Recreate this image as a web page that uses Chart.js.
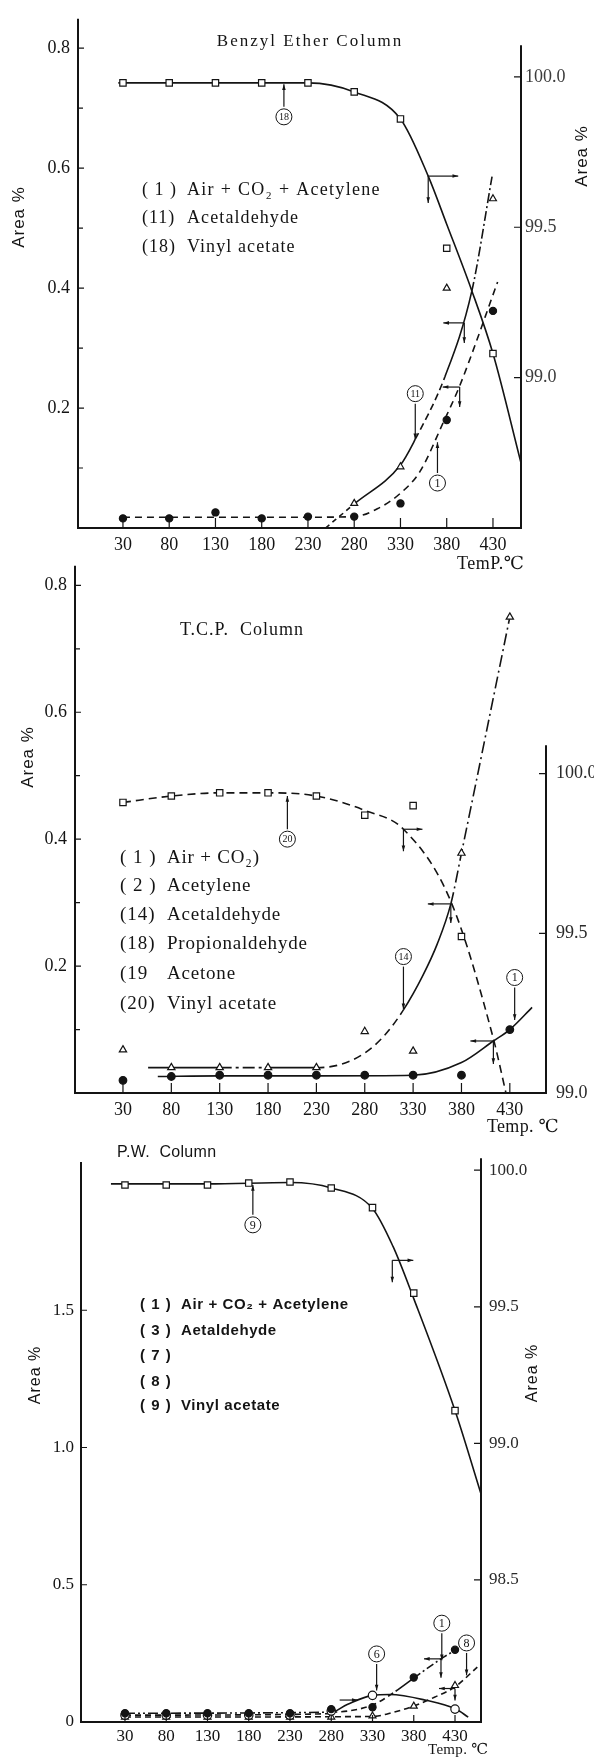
<!DOCTYPE html>
<html>
<head>
<meta charset="utf-8">
<script src="https://cdn.jsdelivr.net/npm/chart.js@4.4.1/dist/chart.umd.min.js"></script>
<style>
html, body { margin: 0; padding: 0; background: #fff; }
#wrap { position: relative; width: 594px; height: 1760px; overflow: hidden; }
canvas { position: absolute; left: 0; }
</style>
</head>
<body>
<div id="wrap">
  <canvas id="c1" width="594" height="580" style="top:0px"></canvas>
  <canvas id="c2" width="594" height="600" style="top:545px"></canvas>
  <canvas id="c3" width="594" height="620" style="top:1140px"></canvas>
</div>
<script>
const temps = [30, 80, 130, 180, 230, 280, 330, 380, 430];

// Benzyl Ether column (measured points)
const beVinylAcetate = [99.98, 99.98, 99.98, 99.98, 99.98, 99.95, 99.86, 99.43, 99.08];
const beAcetaldehyde = [null, null, null, null, null, 0.041, 0.102, 0.40, 0.549];
const beAirCO2 = [0.016, 0.016, 0.026, 0.016, 0.019, 0.019, 0.041, 0.18, 0.362];
// Benzyl Ether column (drawn curves)
const beVinylCurveT = [25, 130, 230, 280, 330, 360, 380, 407, 430, 460];
const beVinylCurve = [99.98, 99.98, 99.98, 99.95, 99.86, 99.67, 99.51, 99.29, 99.08, 98.72];
const beAcetCurveT = [249, 280, 330, 346, 378, 407, 429];
const beAcetCurve = [0, 0.04, 0.105, 0.148, 0.252, 0.394, 0.586];
const beAirCurveT = [30, 130, 230, 280, 305, 330, 351, 376, 394, 435];
const beAirCurve = [0.018, 0.018, 0.018, 0.019, 0.032, 0.058, 0.094, 0.175, 0.237, 0.41];

// T.C.P. column
const tcpVinylAcetate = [99.91, 99.93, 99.94, 99.94, 99.93, 99.87, 99.90, 99.49, null];
const tcpAcetaldehyde = [0.068, 0.04, 0.04, 0.04, 0.04, 0.097, 0.066, 0.378, 0.75];
const tcpAirCO2 = [0.02, 0.026, 0.028, 0.028, 0.028, 0.028, 0.028, 0.028, 0.10];
const tcpVinylCurveT = [30, 80, 130, 180, 230, 280, 320, 369, 413, 426];
const tcpVinylCurve = [99.91, 99.93, 99.94, 99.94, 99.93, 99.885, 99.826, 99.60, 99.17, 99.0];
const tcpAcetCurveT = [56, 130, 180, 230, 255, 280, 300, 320, 340, 355, 369, 380, 430];
const tcpAcetCurve = [0.04, 0.04, 0.04, 0.04, 0.045, 0.063, 0.09, 0.131, 0.185, 0.235, 0.298, 0.378, 0.75];
const tcpAirCurveT = [66, 130, 230, 330, 380, 413, 430, 453];
const tcpAirCurve = [0.026, 0.027, 0.027, 0.028, 0.048, 0.082, 0.10, 0.135];

// P.W. column
const pwVinylAcetate = [99.946, 99.946, 99.946, 99.953, 99.957, 99.935, 99.863, 99.55, 99.12];
const pwAirCO2 = [0.032, 0.032, 0.032, 0.032, 0.032, 0.047, 0.054, 0.162, 0.263];
const pwPeak6 = [0.025, 0.025, 0.025, 0.025, 0.025, 0.04, 0.097, null, 0.047];
const pwPeak8 = [0.018, 0.018, 0.018, 0.018, 0.018, 0.018, 0.022, 0.058, 0.133];
const pwVinylCurveT = [13, 130, 230, 280, 330, 355, 380, 430, 462];
const pwVinylCurve = [99.95, 99.95, 99.955, 99.935, 99.86, 99.72, 99.53, 99.12, 98.81];
const pwAirCurveT = [30, 280, 330, 358, 380, 413, 432];
const pwAirCurve = [0.032, 0.036, 0.062, 0.112, 0.16, 0.23, 0.265];
const pwPeak6CurveT = [30, 276, 300, 330, 351, 395, 431, 446];
const pwPeak6Curve = [0.025, 0.03, 0.065, 0.097, 0.10, 0.079, 0.047, 0.018];
const pwPeak8CurveT = [30, 330, 355, 380, 405, 430, 457];
const pwPeak8Curve = [0.018, 0.02, 0.035, 0.058, 0.09, 0.128, 0.2];

// tick labels
const beLeftTicks = [0.2, 0.4, 0.6, 0.8];
const beRightTicks = [99.0, 99.5, 100.0];
const tcpLeftTicks = [0.2, 0.4, 0.6, 0.8];
const tcpRightTicks = [99.0, 99.5, 100.0];
const pwLeftTicks = [0, 0.5, 1.0, 1.5];
const pwRightTicks = [98.5, 99.0, 99.5, 100.0];
const minorTicks = [0.1, 0.3, 0.5, 0.7];

const SERIF = '"Liberation Serif", "DejaVu Serif", serif';
const SANS = '"Liberation Sans", "DejaVu Sans", sans-serif';
const INK = '#141414';

function pts(xs, ys) {
  return xs.map((x, i) => ys[i] == null ? null : { x: x, y: ys[i] }).filter(p => p);
}

function dashFn(styles) {
  return ctx => {
    const x = ctx.p0.parsed.x;
    for (const s of styles) if (x < s[0]) return s[1];
    return [];
  };
}

function markers(xs, ys, style, fill, axis, r) {
  return {
    data: pts(xs, ys), showLine: false, pointStyle: style, pointRadius: r || 4,
    pointBackgroundColor: fill, pointBorderColor: INK, pointBorderWidth: 1.2,
    yAxisID: axis, order: 0
  };
}

function curve(xs, ys, axis, styles) {
  return {
    data: pts(xs, ys), borderColor: INK, borderWidth: 1.6, pointRadius: 0,
    cubicInterpolationMode: 'monotone', fill: false, yAxisID: axis, order: 1,
    segment: { borderDash: dashFn(styles) }
  };
}

function arrowLine(ctx, x1, y1, x2, y2) {
  ctx.beginPath(); ctx.moveTo(x1, y1); ctx.lineTo(x2, y2); ctx.stroke();
  const a = Math.atan2(y2 - y1, x2 - x1), h = 6;
  ctx.beginPath();
  ctx.moveTo(x2, y2);
  ctx.lineTo(x2 - h * Math.cos(a - 0.3), y2 - h * Math.sin(a - 0.3));
  ctx.lineTo(x2 - h * Math.cos(a + 0.3), y2 - h * Math.sin(a + 0.3));
  ctx.closePath(); ctx.fill();
}

function text(ctx, t) {
  ctx.save();
  ctx.font = t.font;
  ctx.fillStyle = t.color || INK;
  ctx.letterSpacing = (t.sp || 0) + 'px';
  ctx.textBaseline = 'middle';
  ctx.textAlign = t.align || 'left';
  ctx.translate(t.x, t.y);
  if (t.rot) ctx.rotate(t.rot);
  ctx.fillText(t.t, 0, 0);
  ctx.restore();
}

function deco(cfg) {
  return {
    id: 'deco',
    afterDatasetsDraw(chart) {
      const ctx = chart.ctx, a = chart.chartArea, sc = chart.scales;
      ctx.save();
      ctx.strokeStyle = INK; ctx.fillStyle = INK; ctx.lineWidth = 2;
      // axis lines
      ctx.beginPath();
      ctx.moveTo(a.left, sc.y.getPixelForValue(cfg.leftTop)); ctx.lineTo(a.left, a.bottom + 1);
      ctx.moveTo(a.left - 1, a.bottom); ctx.lineTo(a.right + 1, a.bottom);
      ctx.moveTo(a.right, sc.y1.getPixelForValue(cfg.rightTop)); ctx.lineTo(a.right, a.bottom + 1);
      ctx.stroke();
      // tick marks
      ctx.lineWidth = 1.2;
      ctx.beginPath();
      cfg.leftMajor.forEach(v => { const y = sc.y.getPixelForValue(v); ctx.moveTo(a.left, y); ctx.lineTo(a.left + 6, y); });
      (cfg.leftMinor || []).forEach(v => { const y = sc.y.getPixelForValue(v); ctx.moveTo(a.left, y); ctx.lineTo(a.left + 5, y); });
      cfg.rightMajor.forEach(v => { const y = sc.y1.getPixelForValue(v); ctx.moveTo(a.right - 7, y); ctx.lineTo(a.right, y); });
      temps.forEach(v => { const x = sc.x.getPixelForValue(v); ctx.moveTo(x, a.bottom); ctx.lineTo(x, a.bottom - cfg.xTick); });
      ctx.stroke();
      // axis indicator arrows
      ctx.lineWidth = 1.2;
      (cfg.arrows || []).forEach(r => {
        const x = sc.x.getPixelForValue(r.x), y = sc[r.axis].getPixelForValue(r.y);
        if (r.toward) arrowLine(ctx, x + r.h, y, x, y);
        else if (r.h) arrowLine(ctx, x, y, x + r.h, y);
        if (r.v) arrowLine(ctx, x, y, x, y + r.v);
      });
      // circled labels
      (cfg.callouts || []).forEach(c => {
        const x = sc.x.getPixelForValue(c.x), y = sc[c.axis].getPixelForValue(c.ly);
        const ty = sc[c.axis].getPixelForValue(c.ty), r = 8;
        ctx.lineWidth = 1;
        ctx.beginPath(); ctx.arc(x, y, r, 0, Math.PI * 2); ctx.stroke();
        text(ctx, { t: c.n, x: x, y: y + 0.5, align: 'center', font: (c.n.length > 1 ? '10px ' : '12px ') + SERIF });
        ctx.lineWidth = 1.2;
        if (ty < y) arrowLine(ctx, x, y - r - 2, x, ty);
        else arrowLine(ctx, x, y + r + 2, x, ty);
      });
      (cfg.texts || []).forEach(t => text(ctx, t));
      ctx.restore();
    }
  };
}

function options(p) {
  return {
    responsive: false, animation: false, events: [],
    layout: { padding: { top: p.top, left: 0, right: 0, bottom: 0 }, autoPadding: false },
    plugins: { legend: { display: false }, tooltip: { enabled: false } },
    scales: {
      x: {
        type: 'linear', position: 'bottom', min: p.xMin, max: p.xMax,
        grid: { display: false, drawTicks: false }, border: { display: false },
        afterBuildTicks: s => { s.ticks = temps.map(v => ({ value: v })); },
        afterFit: s => { s.height = p.xH; },
        ticks: { font: { family: SERIF, size: p.fs }, color: INK, padding: p.xPad, maxRotation: 0, autoSkip: false, callback: v => String(v) }
      },
      y: {
        type: 'linear', position: 'left', min: p.yMin, max: p.yMax,
        grid: { display: false, drawTicks: false }, border: { display: false },
        afterBuildTicks: s => { s.ticks = p.leftTicks.map(v => ({ value: v })); },
        afterFit: s => { s.width = p.lw; },
        ticks: { font: { family: SERIF, size: p.fs }, color: INK, padding: p.lPad, callback: v => v === 0 ? '0' : v.toFixed(1) }
      },
      y1: {
        type: 'linear', position: 'right', min: p.rMin, max: p.rMax,
        grid: { display: false, drawTicks: false }, border: { display: false },
        afterBuildTicks: s => { s.ticks = p.rightTicks.map(v => ({ value: v })); },
        afterFit: s => { s.width = p.rw; },
        ticks: { font: { family: SERIF, size: p.rfs || p.fs }, color: p.rColor || '#2a2a2a', padding: p.rPad, callback: v => v.toFixed(1) }
      }
    }
  };
}

// ---------- Benzyl Ether Column ----------
new Chart(document.getElementById('c1'), {
  type: 'line',
  data: {
    datasets: [
      markers(temps, beVinylAcetate, 'rect', '#fff', 'y1', 4.5),
      markers(temps, beAcetaldehyde, 'triangle', '#fff', 'y', 4),
      markers(temps, beAirCO2, 'circle', INK, 'y', 3.6),
      curve(beVinylCurveT, beVinylCurve, 'y1', [[Infinity, []]]),
      curve(beAcetCurveT, beAcetCurve, 'y', [[280, [5, 4]], [346, []], [378, [7, 4]], [407, []], [Infinity, [10, 3, 2, 3]]]),
      curve(beAirCurveT, beAirCurve, 'y', [[Infinity, [7, 5]]])
    ]
  },
  options: options({ top: 5, xMin: -18.6, xMax: 460.3, xH: 52, xPad: 6, fs: 18,
    yMin: 0, yMax: 0.849, leftTicks: beLeftTicks, lw: 78, lPad: 8,
    rMin: 98.5, rMax: 100.193, rightTicks: beRightTicks, rw: 73, rPad: 4, rColor: '#3c3c3c' }),
  plugins: [deco({
    leftTop: 0.849, rightTop: 100.105, leftMajor: beLeftTicks, leftMinor: minorTicks,
    rightMajor: beRightTicks, xTick: 10,
    arrows: [
      { x: 360, y: 99.67, axis: 'y1', h: 30, v: 27 },
      { x: 399, y: 0.342, axis: 'y', h: -21, v: 20 },
      { x: 394, y: 0.235, axis: 'y', h: -17, v: 20 }
    ],
    callouts: [
      { n: '18', x: 204, axis: 'y1', ly: 99.867, ty: 99.975 },
      { n: '11', x: 346, axis: 'y', ly: 0.224, ty: 0.148 },
      { n: '1', x: 370, axis: 'y', ly: 0.075, ty: 0.143 }
    ],
    texts: [
      { t: 'Benzyl Ether Column', x: 310, y: 42, align: 'center', font: '17px ' + SERIF, sp: 2 },
      { t: '( 1 )', x: 142, y: 190, font: '18px ' + SERIF, sp: 1 },
      { t: 'Air + CO₂ + Acetylene', x: 187, y: 190, font: '18px ' + SERIF, sp: 1.3 },
      { t: '(11)', x: 142, y: 218, font: '18px ' + SERIF, sp: 1 },
      { t: 'Acetaldehyde', x: 187, y: 218, font: '18px ' + SERIF, sp: 1.1 },
      { t: '(18)', x: 142, y: 247, font: '18px ' + SERIF, sp: 1 },
      { t: 'Vinyl acetate', x: 187, y: 247, font: '18px ' + SERIF, sp: 1.1 },
      { t: 'Area %', x: 19, y: 217, align: 'center', rot: -Math.PI / 2, font: '17px ' + SANS, sp: 1 },
      { t: 'Area %', x: 582, y: 156, align: 'center', rot: -Math.PI / 2, font: '17px ' + SANS, sp: 1 },
      { t: 'TemP.℃', x: 457, y: 564, font: '18px ' + SERIF, sp: 0.5 }
    ]
  })]
});

// ---------- T.C.P. Column ----------
new Chart(document.getElementById('c2'), {
  type: 'line',
  data: {
    datasets: [
      markers(temps, tcpVinylAcetate, 'rect', '#fff', 'y1', 4.5),
      markers(temps, tcpAcetaldehyde, 'triangle', '#fff', 'y', 4.2),
      markers(temps, tcpAirCO2, 'circle', INK, 'y', 3.8),
      curve(tcpVinylCurveT, tcpVinylCurve, 'y1', [[Infinity, [8, 5]]]),
      curve(tcpAcetCurveT, tcpAcetCurve, 'y', [[130, []], [180, [12, 4, 3, 4]], [230, []], [320, [8, 5]], [369, []], [Infinity, [12, 4, 2, 4]]]),
      curve(tcpAirCurveT, tcpAirCurve, 'y', [[Infinity, []]])
    ]
  },
  options: options({ top: 8, xMin: -19.6, xMax: 467.4, xH: 52, xPad: 6, fs: 18,
    yMin: 0, yMax: 0.8308, leftTicks: tcpLeftTicks, lw: 75, lPad: 8,
    rMin: 99.0, rMax: 100.651, rightTicks: tcpRightTicks, rw: 48, rPad: 10 }),
  plugins: [deco({
    leftTop: 0.8308, rightTop: 100.089, leftMajor: tcpLeftTicks, leftMinor: minorTicks,
    rightMajor: tcpRightTicks, xTick: 10,
    arrows: [
      { x: 320, y: 99.826, axis: 'y1', h: 19, v: 22 },
      { x: 369, y: 0.298, axis: 'y', h: -23, v: 19 },
      { x: 413, y: 0.082, axis: 'y', h: -23, v: 23 }
    ],
    callouts: [
      { n: '20', x: 200, axis: 'y1', ly: 99.795, ty: 99.93 },
      { n: '14', x: 320, axis: 'y', ly: 0.215, ty: 0.132 },
      { n: '1', x: 435, axis: 'y', ly: 0.182, ty: 0.115 }
    ],
    texts: [
      { t: 'T.C.P.  Column', x: 242, y: 85, align: 'center', font: '18px ' + SERIF, sp: 1 },
      { t: '( 1 )', x: 120, y: 313, font: '19px ' + SERIF, sp: 1 },
      { t: 'Air + CO₂)', x: 167, y: 313, font: '19px ' + SERIF, sp: 0.8 },
      { t: '( 2 )', x: 120, y: 341, font: '19px ' + SERIF, sp: 1 },
      { t: 'Acetylene', x: 167, y: 341, font: '19px ' + SERIF, sp: 0.8 },
      { t: '(14)', x: 120, y: 370, font: '19px ' + SERIF, sp: 1 },
      { t: 'Acetaldehyde', x: 167, y: 370, font: '19px ' + SERIF, sp: 0.8 },
      { t: '(18)', x: 120, y: 399, font: '19px ' + SERIF, sp: 1 },
      { t: 'Propionaldehyde', x: 167, y: 399, font: '19px ' + SERIF, sp: 0.8 },
      { t: '(19', x: 120, y: 429, font: '19px ' + SERIF, sp: 1 },
      { t: 'Acetone', x: 167, y: 429, font: '19px ' + SERIF, sp: 0.8 },
      { t: '(20)', x: 120, y: 459, font: '19px ' + SERIF, sp: 1 },
      { t: 'Vinyl acetate', x: 167, y: 459, font: '19px ' + SERIF, sp: 0.8 },
      { t: 'Area %', x: 28, y: 212, align: 'center', rot: -Math.PI / 2, font: '17px ' + SANS, sp: 1 },
      { t: 'Temp. ℃', x: 487, y: 582, font: '18px ' + SERIF, sp: 0.3 }
    ]
  })]
});

// ---------- P.W. Column ----------
new Chart(document.getElementById('c3'), {
  type: 'line',
  data: {
    datasets: [
      markers(temps, pwVinylAcetate, 'rect', '#fff', 'y1', 4.5),
      markers(temps, pwAirCO2, 'circle', INK, 'y', 3.6),
      markers(temps, pwPeak6, 'circle', '#fff', 'y', 4.2),
      markers(temps, pwPeak8, 'triangle', '#fff', 'y', 4),
      curve(pwVinylCurveT, pwVinylCurve, 'y1', [[Infinity, []]]),
      curve(pwAirCurveT, pwAirCurve, 'y', [[280, [10, 3, 2, 3, 2, 3]], [358, [6, 4]], [380, []], [Infinity, [8, 3, 2, 3]]]),
      curve(pwPeak6CurveT, pwPeak6Curve, 'y', [[276, [6, 4]], [Infinity, []]]),
      curve(pwPeak8CurveT, pwPeak8Curve, 'y', [[Infinity, [6, 4]]])
    ]
  },
  options: options({ top: 11, xMin: -23.3, xMax: 461.5, xH: 38, xPad: 4, fs: 17,
    yMin: 0, yMax: 2.054, leftTicks: pwLeftTicks, lw: 81, lPad: 7,
    rMin: 97.98, rMax: 100.044, rightTicks: pwRightTicks, rw: 113, rPad: 8, rfs: 17 }),
  plugins: [deco({
    leftTop: 2.04, rightTop: 100.044, leftMajor: pwLeftTicks,
    rightMajor: pwRightTicks, xTick: 7,
    arrows: [
      { x: 354, y: 99.67, axis: 'y1', h: 21, v: 22 },
      { x: 312, y: 0.08, axis: 'y', h: -18, toward: true },
      { x: 413, y: 0.23, axis: 'y', h: -17, v: 19 },
      { x: 430, y: 0.122, axis: 'y', h: -16, v: 12 }
    ],
    callouts: [
      { n: '9', x: 185, axis: 'y1', ly: 99.80, ty: 99.946 },
      { n: '6', x: 335, axis: 'y', ly: 0.248, ty: 0.115 },
      { n: '1', x: 414, axis: 'y', ly: 0.36, ty: 0.225 },
      { n: '8', x: 444, axis: 'y', ly: 0.288, ty: 0.17 }
    ],
    texts: [
      { t: 'P.W.  Column', x: 117, y: 13, font: '16px ' + SANS, sp: 0.3 },
      { t: '( 1 )', x: 140, y: 165, font: 'bold 15px ' + SANS, sp: 1 },
      { t: 'Air + CO₂ + Acetylene', x: 181, y: 165, font: 'bold 15px ' + SANS, sp: 0.6 },
      { t: '( 3 )', x: 140, y: 191, font: 'bold 15px ' + SANS, sp: 1 },
      { t: 'Aetaldehyde', x: 181, y: 191, font: 'bold 15px ' + SANS, sp: 0.6 },
      { t: '( 7 )', x: 140, y: 216, font: 'bold 15px ' + SANS, sp: 1 },
      { t: '( 8 )', x: 140, y: 242, font: 'bold 15px ' + SANS, sp: 1 },
      { t: '( 9 )', x: 140, y: 266, font: 'bold 15px ' + SANS, sp: 1 },
      { t: 'Vinyl acetate', x: 181, y: 266, font: 'bold 15px ' + SANS, sp: 0.6 },
      { t: 'Area %', x: 36, y: 235, align: 'center', rot: -Math.PI / 2, font: '16px ' + SANS, sp: 1 },
      { t: 'Area %', x: 533, y: 233, align: 'center', rot: -Math.PI / 2, font: '16px ' + SANS, sp: 1 },
      { t: 'Temp. ℃', x: 428, y: 610, font: '15px ' + SERIF, sp: 0.3 }
    ]
  })]
});
</script>
</body>
</html>
